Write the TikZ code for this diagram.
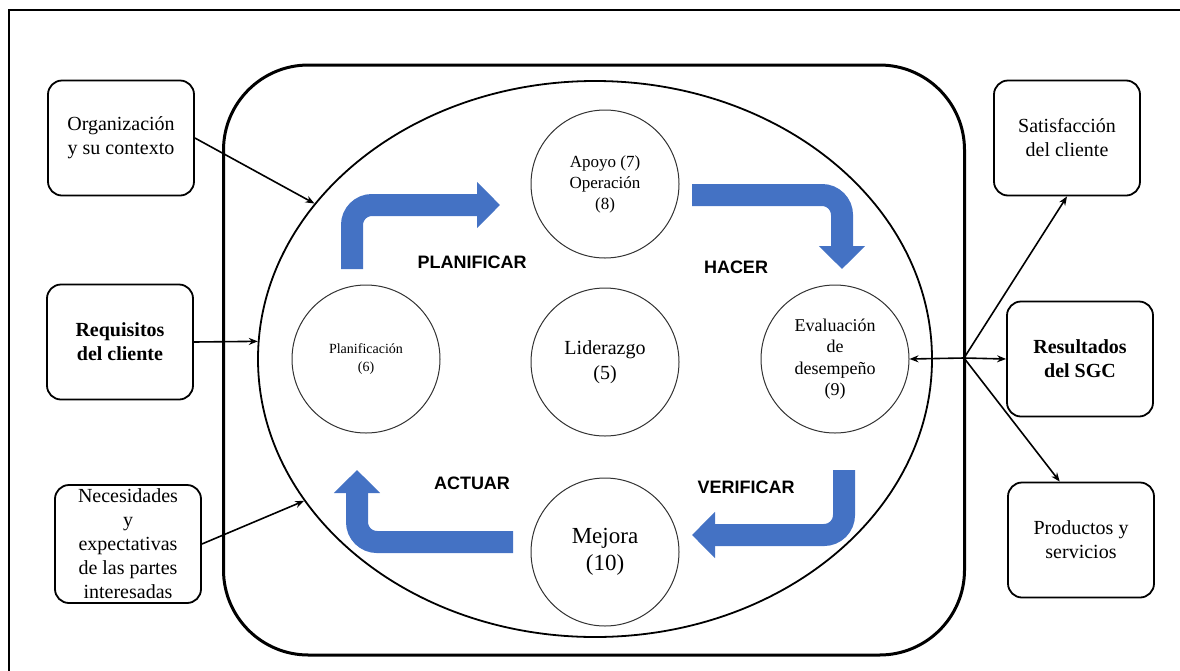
\documentclass[tikz,border=0pt]{standalone}
\usepackage{fontspec}
\setmainfont{Liberation Serif}
\newfontfamily\phasefont{Liberation Sans}
\usetikzlibrary{shapes,arrows.meta,positioning}
\definecolor{flowblue}{RGB}{68,114,196}

\begin{document}
\begin{tikzpicture}[
        x=1pt, y=-1pt,
        box/.style={rectangle, draw, line width=1.8pt, rounded corners=14pt, minimum width=146pt, minimum height=115pt, align=center, font=\fontsize{20}{24}\selectfont},
        clause/.style={circle, draw=black!80, line width=1pt, minimum size=148pt, inner sep=0pt, align=center},
        phase/.style={font=\phasefont\bfseries\fontsize{18}{22}\selectfont},
        flow/.style={line width=22pt, draw=flowblue, rounded corners=20pt, -{Triangle[length=23pt,width=45pt]}},
        conn/.style={-{Stealth[length=9pt,width=7pt]}, line width=1.6pt}
    ]
        \useasboundingbox (0,0) rectangle (1180,670);

        % Frame
        \draw[line width=1.5pt] (9,672) -- (9,10) -- (1182,10);

        % System and PDCA cycle
        \node[rectangle, draw, line width=3pt, rounded corners=85pt, minimum width=741pt, minimum height=590pt] (qms) at (594,360) {};
        \node[ellipse, draw, line width=1.8pt, minimum width=674pt, minimum height=556pt, inner sep=0pt] (pdca) at (595,359) {};

        % Clauses
        \node[clause, font=\fontsize{17}{21}\selectfont] (apoyo) at (605,184) {Apoyo (7)\\Operación\\(8)};
        \node[clause, font=\fontsize{20}{25}\selectfont] (lider) at (605,362) {Liderazgo\\(5)};
        \node[clause, font=\fontsize{23}{27}\selectfont] (mejora) at (605,552) {Mejora\\(10)};
        \node[clause, font=\fontsize{14}{18}\selectfont] (plan) at (366,359) {Planificación\\(6)};
        \node[clause, font=\fontsize{18}{21.5}\selectfont] (eval) at (835,359) {Evaluación\\de\\desempeño\\(9)};

        % Phases
        \node[phase] (planificar) at (472,262) {PLANIFICAR};
        \node[phase] (hacer) at (736,267) {HACER};
        \node[phase] (actuar) at (472,483) {ACTUAR};
        \node[phase] (verificar) at (746,487) {VERIFICAR};

        % Blue cycle arrows
        \draw[flow] (352,269) -- (352,205) -- (500,205);
        \draw[flow] (692,195) -- (842,195) -- (842,269);
        \draw[flow] (844,470) -- (844,535) -- (692,535);
        \draw[flow] (513,542) -- (357,542) -- (357,470);

        % Inputs
        \node[box] (org) at (121,138) {Organización\\y su contexto};
        \node[box, font=\fontsize{20}{24}\selectfont\bfseries] (req) at (120,342) {Requisitos\\del cliente};
        \node[box, minimum height=118pt, inner ysep=-6pt] (nec) at (128,544) {Necesidades\\y\\expectativas\\de las partes\\interesadas};

        \draw[conn] (org.east) -- (pdca.151);
        \draw[conn] (req.east) -- (pdca.177);
        \draw[conn] (nec.east) -- (pdca.206);

        % Outputs
        \node[box] (sat) at (1067,138) {Satisfacción\\del cliente};
        \node[box, font=\fontsize{20}{24}\selectfont\bfseries] (res) at (1080,359) {Resultados\\del SGC};
        \node[box] (prod) at (1081,540) {Productos y\\servicios};

        \coordinate (hub) at (964,358);
        \foreach \t in {eval.east, sat.south, res.west, prod.110} {
            \draw[conn] (hub) -- (\t);
        }

    \end{tikzpicture}
\end{document}
